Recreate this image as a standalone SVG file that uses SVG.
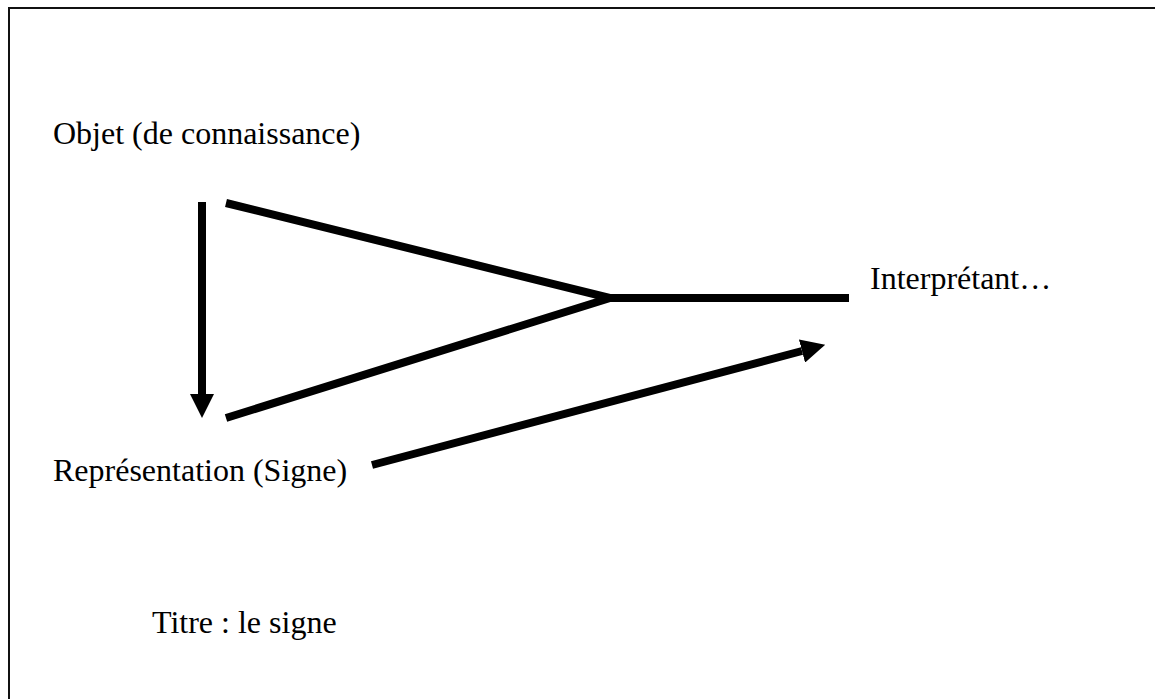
<svg xmlns="http://www.w3.org/2000/svg" width="1155" height="699" viewBox="0 0 1155 699">
  <style>
    .label { font-family: "Liberation Serif", "Times New Roman", serif; font-size: 32px; fill: #000; }
    .edge { fill: none; stroke: #000; stroke-width: 8; stroke-linecap: butt; stroke-linejoin: miter; }
    .frame { fill: #fff; stroke: #111; stroke-width: 2; }
  </style>
  <defs>
    <marker id="head" viewBox="0 0 24 24" markerWidth="24" markerHeight="24" refX="0" refY="12" orient="auto" markerUnits="userSpaceOnUse">
      <path d="M0,0 L24,12 L0,24 Z" fill="#000"/>
    </marker>
  </defs>

  <rect width="1155" height="699" fill="#fff"/>
  <!-- page frame, open past the right and bottom edges -->
  <rect class="frame" x="9" y="8" width="1200" height="800"/>

  <g id="connectors">
    <!-- object to representation -->
    <path class="edge" d="M202,202 L202,394" marker-end="url(#head)"/>
    <!-- converging branches joining into the interpretant line -->
    <path class="edge" d="M226,203 L610,298 L226,418"/>
    <path class="edge" d="M606,298 L849,298"/>
    <!-- representation to interpretant -->
    <path class="edge" d="M372,465 L802,351" marker-end="url(#head)"/>
  </g>

  <g id="objet">
    <text class="label" x="53" y="144">Objet (de connaissance)</text>
  </g>
  <g id="representation">
    <text class="label" x="53" y="481">Représentation (Signe)</text>
  </g>
  <g id="interpretant">
    <text class="label" x="870" y="289">Interprétant…</text>
  </g>
  <g id="titre">
    <text class="label" x="152" y="633">Titre : le signe</text>
  </g>
</svg>
